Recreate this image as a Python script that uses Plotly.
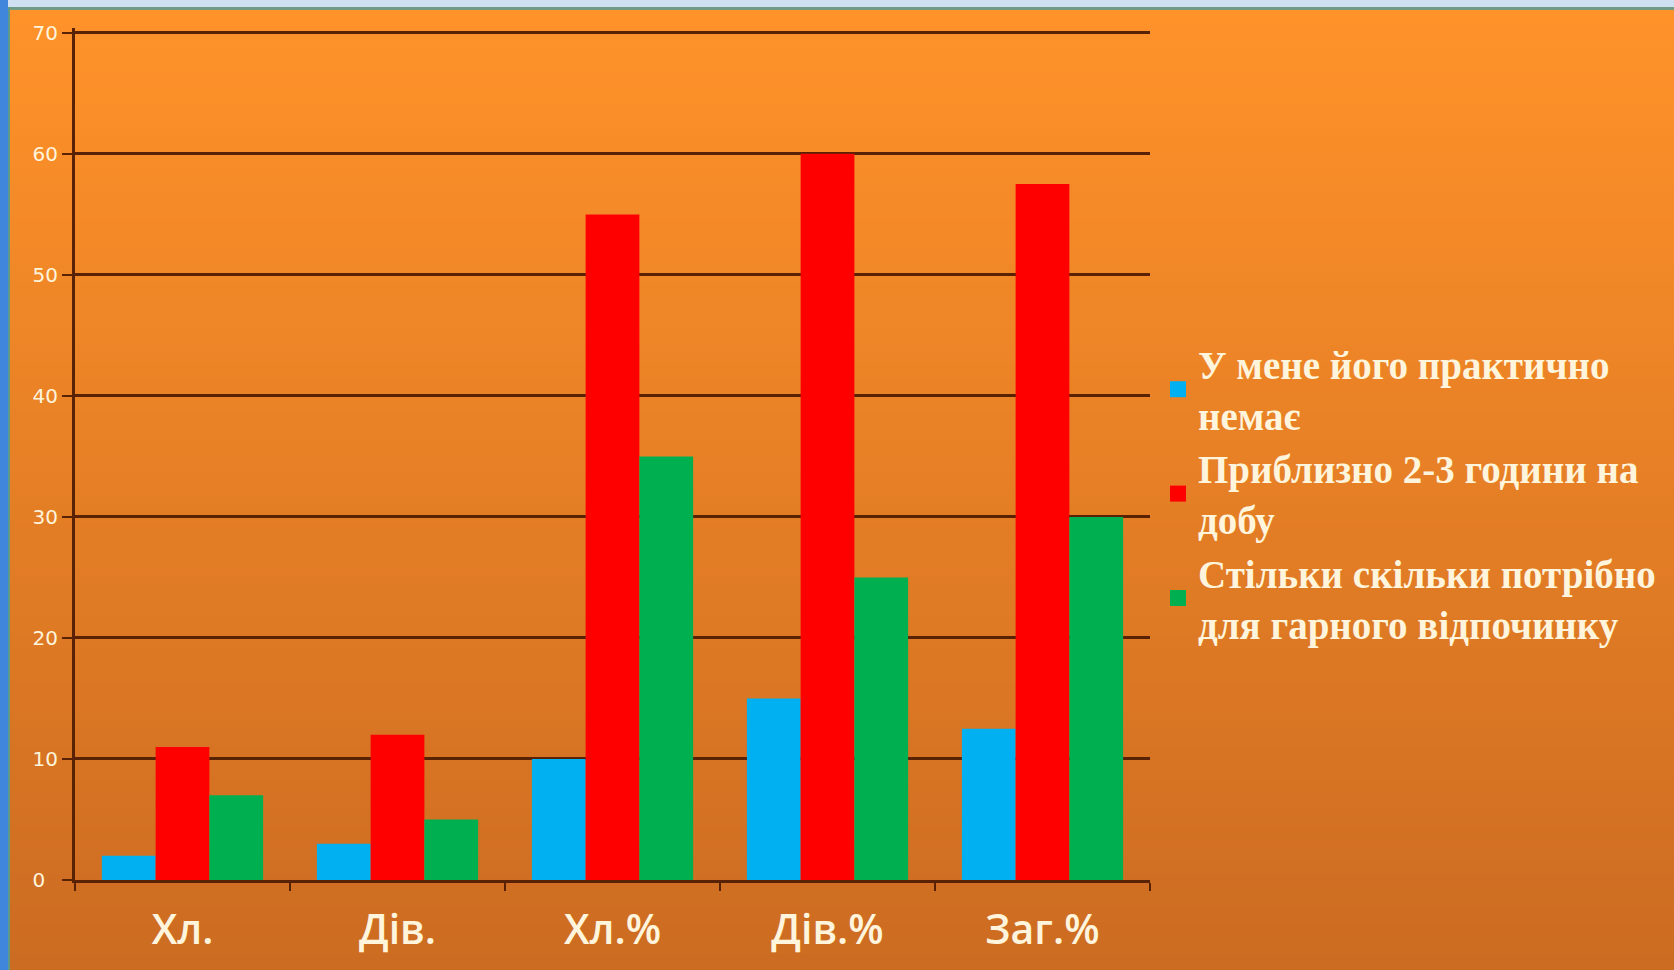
import plotly.graph_objects as go

# survey categories and answer series
categories = ['Хл.', 'Дів.', 'Хл.%', 'Дів.%', 'Заг.%']
series_names = ['У мене його практично<br>немає',
                'Приблизно 2-3 години на<br>добу',
                'Стільки скільки потрібно<br>для гарного відпочинку']
no_time = [2, 3, 10, 15, 12.5]
two_three_hours = [11, 12, 55, 60, 57.5]
as_needed = [7, 5, 35, 25, 30]
colors = ['#00b0f0', '#ff0000', '#00b050']

tick_vals = [0, 10, 20, 30, 40, 50, 60, 70]
tick_text = ['0\u2007', '10', '20', '30', '40', '50', '60', '70']

fig = go.Figure()
for name, vals, col in zip(series_names, [no_time, two_three_hours, as_needed], colors):
    fig.add_trace(go.Bar(x=categories, y=vals, name=name, marker_color=col,
                         marker_line_width=0, showlegend=False))
    # bigger square legend keys than the default bar symbol
    fig.add_trace(go.Scatter(x=[None], y=[None], mode='markers', name=name,
                             marker=dict(symbol='square', size=16, color=col)))

# orange slide background, drawn as thin strips to fake the gradient
W, H = 1674, 970
ml, mr, mt, mb = 75, 524, 28, 90
pw, ph = W - ml - mr, H - mt - mb

def px_x(p):
    return (p - ml) / pw

def px_y(p):
    return (H - mb - p) / ph

top_rgb = (255, 146, 41)
bot_rgb = (204, 108, 34)
shapes = []
n = 60
for i in range(n):
    t = i / (n - 1)
    c = tuple(round(a + (b - a) * t) for a, b in zip(top_rgb, bot_rgb))
    y0 = 9 + (H - 9) * i / n
    y1 = 9 + (H - 9) * (i + 1) / n + 1
    shapes.append(dict(type='rect', xref='paper', yref='paper', layer='below',
                       x0=px_x(0), x1=px_x(W), y0=px_y(y1), y1=px_y(y0),
                       line_width=0, fillcolor='rgb(%d,%d,%d)' % c))
# window edges around the slide
shapes.append(dict(type='rect', xref='paper', yref='paper', layer='below',
                   x0=px_x(0), x1=px_x(W), y0=px_y(7), y1=px_y(0),
                   line_width=0, fillcolor='#cfe0f2'))
shapes.append(dict(type='rect', xref='paper', yref='paper', layer='below',
                   x0=px_x(0), x1=px_x(W), y0=px_y(10), y1=px_y(7),
                   line_width=0, fillcolor='#6f9a84'))
shapes.append(dict(type='rect', xref='paper', yref='paper', layer='below',
                   x0=px_x(0), x1=px_x(8), y0=px_y(H), y1=px_y(0),
                   line_width=0, fillcolor='#3f86dc'))
shapes.append(dict(type='rect', xref='paper', yref='paper', layer='below',
                   x0=px_x(8), x1=px_x(10), y0=px_y(H), y1=px_y(7),
                   line_width=0, fillcolor='#5e9a8c'))

cream = '#fff4dc'
brown = '#5a2204'

fig.update_layout(
    width=W, height=H,
    margin=dict(l=ml, r=mr, t=mt, b=mb, autoexpand=False),
    paper_bgcolor='#e8822a', plot_bgcolor='rgba(0,0,0,0)',
    barmode='group', bargap=0.25, bargroupgap=0,
    shapes=shapes,
    legend=dict(x=px_x(1158), y=px_y(494), xanchor='left', yanchor='middle',
                font=dict(family='Liberation Serif', size=39, weight='bold', color=cream),
                itemwidth=30, tracegroupgap=0, bgcolor='rgba(0,0,0,0)'),
    xaxis=dict(showline=True, linecolor=brown, linewidth=3,
               ticks='outside', tickson='boundaries', ticklen=8, tickwidth=2,
               tickcolor=brown, showgrid=False, ticklabelstandoff=12,
               tickfont=dict(family='Open Sans', size=41, weight=600, color=cream)),
    yaxis=dict(range=[0, 70.4], tickvals=tick_vals, ticktext=tick_text,
               showline=True, linecolor=brown, linewidth=3,
               ticks='outside', ticklen=10, tickwidth=2, tickcolor=brown,
               showgrid=True, gridcolor=brown, gridwidth=3, zeroline=False,
               tickfont=dict(family='DejaVu Sans', size=20, color=cream)),
)

fig.write_html('out.html', config={'displayModeBar': False},
               post_script="document.body.style.margin='0';")
